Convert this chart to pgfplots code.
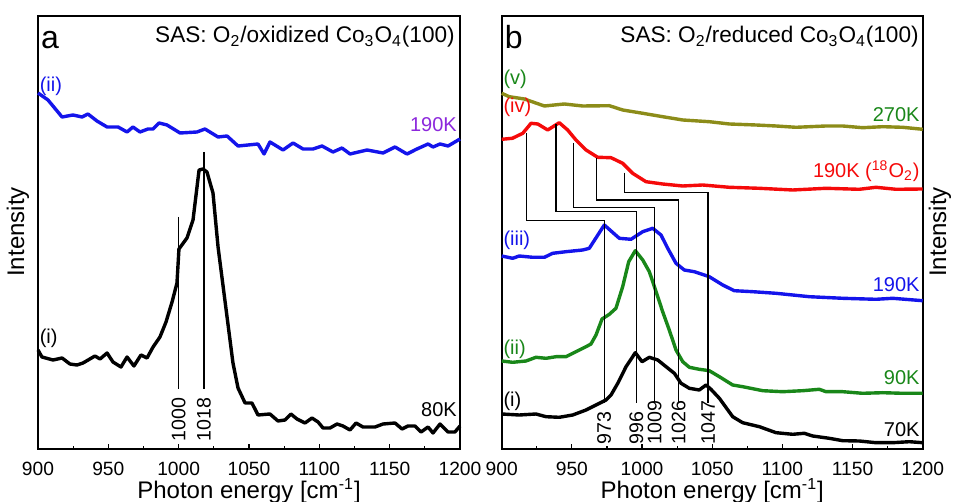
\documentclass[border=0pt]{standalone}
\usepackage{fontspec}
\setmainfont{Liberation Sans}
\usepackage{pgfplots}
\pgfplotsset{compat=1.18}
\definecolor{cblue}{RGB}{20,20,235}
\definecolor{cpurple}{RGB}{140,40,220}
\definecolor{cgreen}{RGB}{25,135,25}
\definecolor{colive}{RGB}{140,140,25}
\definecolor{cred}{RGB}{245,10,10}
\tikzset{
 mk/.style={black, line width=0.65pt, line join=miter},
 lab/.style={font=\fontsize{10}{12}\selectfont, inner sep=0pt},
 num/.style={font=\fontsize{9.8}{11}\selectfont, inner sep=0pt, rotate=90},
}
\pgfplotsset{
 myax/.style={
  scale only axis, height=216.5pt,
  xmin=900,xmax=1200,ymin=0,ymax=433,
  xtick={900,950,...,1200}, minor x tick num=1,
  xtick pos=bottom, ytick=\empty,
  tick align=inside,
  major tick length=2.5pt, minor tick length=1.5pt,
  axis line style={line width=1pt},
  every tick/.style={black, line width=0.6pt},
  /pgf/number format/assume math mode=true,
  /pgf/number format/1000 sep={},
  xticklabel style={font=\fontsize{9.6}{11}\selectfont, anchor=base, yshift=-13pt},
  xlabel={Photon energy [cm\textsuperscript{-1}]},
  every axis x label/.style={at={(rel axis cs:0.5,0)}, anchor=base, yshift=-24.5pt, font=\fontsize{12}{14}\selectfont},
  clip=false,
  every axis plot/.style={line width=1.7pt, line join=round},
 },
}
\begin{document}
\begin{tikzpicture}
\useasboundingbox (0,0) rectangle (478pt,251pt);
% ---------------- panel a ----------------
\begin{axis}[myax, width=211pt, at={(19pt,26.5pt)}, anchor=south west]
\addplot[cblue] coordinates {(900,356)(907.1,349)(917.1,332)(924.9,334)(931.3,332)(935.5,335)(941.9,328)(949.1,322)(956.9,322)(963.3,317)(967.5,322)(972.5,317)(978.2,320)(981.8,320)(986.0,326)(991.7,324)(1001.0,316)(1013.0,317)(1018.7,320)(1028.0,312)(1034.4,313)(1042.2,303)(1049.3,304)(1056.4,305)(1060.7,295)(1064.9,307)(1074.2,299)(1081.3,306)(1088.4,300)(1095.5,300)(1101.9,303)(1109.7,297)(1116.1,301)(1121.8,295)(1133.9,299)(1145.3,296)(1153.8,302)(1162.3,295)(1169.4,300)(1177.3,305)(1180.8,302)(1185.8,305)(1191.5,303)(1200,310)};
\addplot[black] coordinates {(900,99)(902.8,92)(910.7,89)(917.1,91)(922.7,85)(927.7,84)(932.0,86)(940.5,93)(944.1,90)(949.1,96)(953.3,87)(959.0,82)(963.3,92)(968.2,83)(973.2,94)(977.5,91)(981.8,102)(986.7,112)(991.0,127)(995.3,147)(998.8,166)(1000.2,200)(1005.9,211)(1010.2,229)(1014.5,279)(1017.3,280)(1020.1,277)(1024.4,256)(1028.0,202)(1034.4,132)(1038.6,86)(1042.2,61)(1047.2,46)(1052.1,46)(1056.4,34)(1064.9,35)(1070.6,28)(1075.6,29)(1079.8,35)(1084.1,30)(1089.8,26)(1094.8,31)(1099.1,27)(1102.6,21)(1107.6,21)(1112.6,25)(1116.8,23)(1121.8,19)(1126.1,26)(1131.0,22)(1139.6,22)(1145.3,25)(1153.8,26)(1158.8,20)(1163.0,23)(1168.0,23)(1172.3,17)(1177.3,22)(1180.8,16)(1185.8,25)(1191.5,17)(1196.4,17)(1200,23)};
\addplot[mk] coordinates {(1000,232)(1000,60)};
\addplot[mk] coordinates {(1018,297)(1018,60)};
\node[num, anchor=east] at (axis cs:1000,52) {1000};
\node[num, anchor=east] at (axis cs:1018,52) {1018};
\node[font=\fontsize{16}{18}\selectfont, anchor=base west, inner sep=0pt] at (axis cs:902,400) {a};
\node[font=\fontsize{11.3}{13}\selectfont, anchor=base east, inner sep=0pt] at (axis cs:1196.5,406) {SAS: O\textsubscript{2}/oxidized Co\textsubscript{3}O\textsubscript{4}(100)};
\node[lab, text=cblue, anchor=west] at (axis cs:901,363) {(ii)};
\node[lab, text=cpurple, anchor=base east] at (axis cs:1198,317) {190K};
\node[lab, text=black, anchor=west] at (axis cs:901,111) {(i)};
\node[lab, text=black, anchor=base east] at (axis cs:1198,32) {80K};
\end{axis}
% ---------------- panel b ----------------
\begin{axis}[myax, width=210.5pt, at={(250.85pt,26.5pt)}, anchor=south west]
\addplot[colive] coordinates {(900,355.7)(905.4,352.3)(916.1,350)(930.4,343)(944.6,345)(957.7,343)(976.7,343.3)(986.2,339)(1000.5,335.7)(1014.7,332.3)(1029.0,329)(1047.9,327.3)(1062.2,325)(1081.2,324)(1095.5,323)(1109.7,321.7)(1131.1,323)(1143.0,323)(1157.2,321.3)(1171.5,322.3)(1185.7,321.7)(1200,319.7)};
\addplot[cred] coordinates {(900,309.7)(907.6,310.7)(915.0,315.7)(920.9,325.7)(925.7,325)(932.8,319)(941.0,326.3)(947.0,319)(952.9,309)(960.1,299)(968.4,291.7)(977.9,291.3)(986.2,285.7)(993.3,275.7)(1002.8,267.3)(1014.7,265)(1029.0,263)(1043.2,264)(1062.2,261.7)(1083.6,260.7)(1107.4,259)(1131.1,260.7)(1154.8,259.7)(1166.7,261.7)(1181.0,259.7)(1200,260)};
\addplot[cblue] coordinates {(900,193)(907.8,190.7)(912.5,193)(922.1,191.7)(930.4,191.7)(936.3,195.7)(945.8,197.3)(957.7,199)(962.4,200.7)(973.1,224)(983.8,210.7)(992.1,209.7)(1000.5,217.3)(1007.6,220.7)(1013.5,214)(1018.3,200.7)(1024.2,185.7)(1030.1,179)(1037.2,177.3)(1047.9,172.3)(1057.5,164)(1065.7,158.3)(1078.9,157.3)(1095.5,155.7)(1119.2,152.3)(1143.0,150.7)(1166.7,149.7)(1178.6,150.7)(1200,148.3)};
\addplot[cgreen] coordinates {(900,88)(907.8,86.7)(917.3,88)(924.4,91.7)(931.6,90.7)(938.7,92.3)(945.8,92.3)(952.9,97.3)(960.1,102.3)(963.6,105)(967.2,114)(971.5,130)(976.7,134.7)(981.4,140.7)(986.2,162.3)(990.5,187.3)(995.2,198.3)(1000.5,189)(1005.2,177.3)(1010.0,157.3)(1014.7,137.3)(1019.4,119)(1024.2,99)(1029.0,87.3)(1033.7,81.7)(1040.8,79.7)(1047.9,78.3)(1055.1,72.3)(1064.6,64)(1071.7,62.3)(1086.0,58.3)(1100.2,57.3)(1114.5,58.3)(1126.3,59.7)(1131.1,57.3)(1143.0,57.3)(1157.2,55.7)(1171.5,56.3)(1185.7,55.7)(1200,55.7)};
\addplot[black] coordinates {(900,35)(912.5,34)(924.4,35)(931.6,32.3)(941.0,31.7)(950.6,34)(960.1,39)(967.2,44)(974.3,49)(977.9,54)(982.7,65.7)(988.6,82.3)(995.2,96.3)(1000.0,87.3)(1005.2,91.7)(1011.2,89)(1017.1,82.3)(1023.0,75.7)(1027.8,65.7)(1033.7,60.7)(1040.8,59)(1045.6,64)(1049.1,59.7)(1055.1,50.7)(1064.6,32.3)(1071.7,26.3)(1083.6,22.3)(1095.5,16.3)(1107.4,14.7)(1115.6,15.7)(1121.6,13)(1133.4,10.7)(1143.0,8.3)(1154.8,8)(1166.7,6.3)(1178.6,6.3)(1190.5,7.3)(1200,6.3)};
\addplot[mk] coordinates {(917.8,316)(917.8,228.3)(973,228.3)(973,46)};
\addplot[mk] coordinates {(938.7,325)(938.7,237.3)(996,237.3)(996,46)};
\addplot[mk] coordinates {(951.3,306)(951.3,241.7)(1009,241.7)(1009,46)};
\addplot[mk] coordinates {(967.7,291)(967.7,249)(1026,249)(1026,46)};
\addplot[mk] coordinates {(987.4,276.3)(987.4,256.3)(1047,256.3)(1047,46)};
\node[num, anchor=west] at (axis cs:973,4) {973};
\node[num, anchor=west] at (axis cs:996,4) {996};
\node[num, anchor=west] at (axis cs:1009,4) {1009};
\node[num, anchor=west] at (axis cs:1026,4) {1026};
\node[num, anchor=west] at (axis cs:1047,4) {1047};
\node[font=\fontsize{16}{18}\selectfont, anchor=base west, inner sep=0pt] at (axis cs:902,400) {b};
\node[font=\fontsize{11.3}{13}\selectfont, anchor=base east, inner sep=0pt] at (axis cs:1197.4,406) {SAS: O\textsubscript{2}/reduced Co\textsubscript{3}O\textsubscript{4}(100)};
\node[lab, text=cgreen, anchor=west] at (axis cs:901,370) {(v)};
\node[lab, text=cred, anchor=west] at (axis cs:901,342) {(iv)};
\node[lab, text=cblue, anchor=west] at (axis cs:901,209) {(iii)};
\node[lab, text=cgreen, anchor=west] at (axis cs:901,100) {(ii)};
\node[lab, text=black, anchor=west] at (axis cs:901,48) {(i)};
\node[lab, text=cgreen, anchor=base east] at (axis cs:1198,327) {270K};
\node[lab, text=cred, anchor=base east] at (axis cs:1198,271) {190K (\textsuperscript{18}O\textsubscript{2})};
\node[lab, text=cblue, anchor=base east] at (axis cs:1198,157) {190K};
\node[lab, text=cgreen, anchor=base east] at (axis cs:1198,64) {90K};
\node[lab, text=black, anchor=base east] at (axis cs:1198,12) {70K};
\end{axis}
\node[rotate=90, font=\fontsize{12}{14}\selectfont] at (9pt,135pt) {Intensity};
\node[rotate=90, font=\fontsize{12}{14}\selectfont] at (470pt,135pt) {Intensity};
\end{tikzpicture}
\end{document}
